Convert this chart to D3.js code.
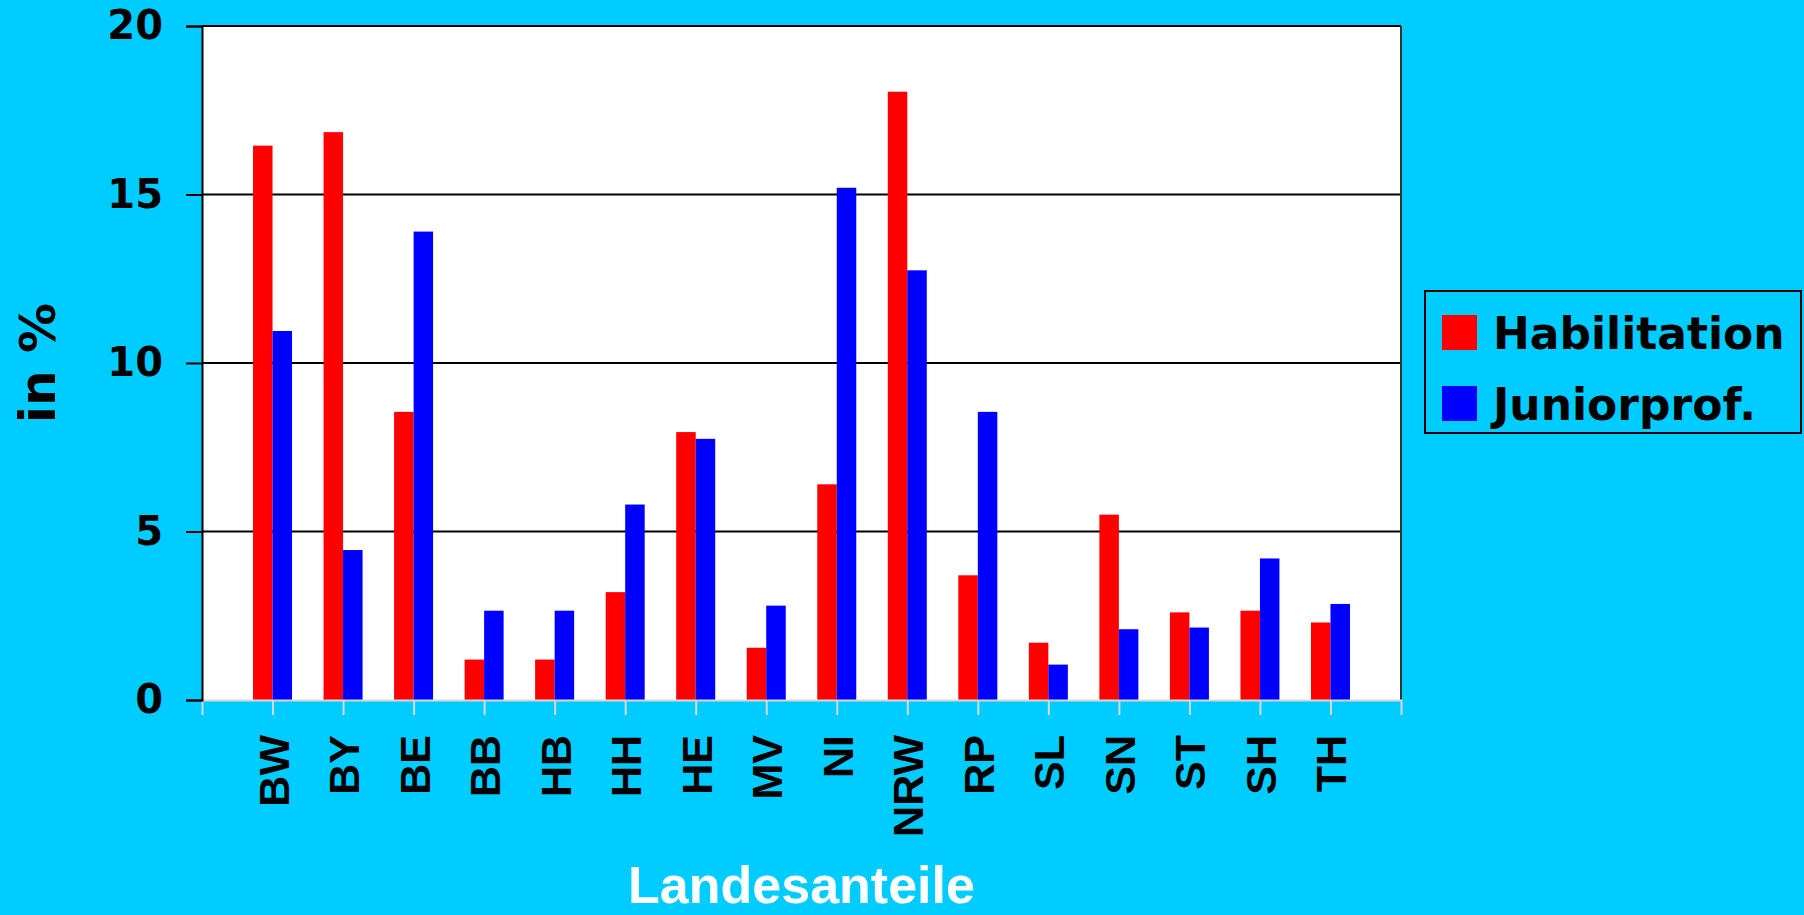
<!DOCTYPE html>
<html>
<head>
<meta charset="utf-8">
<script src="https://cdn.jsdelivr.net/npm/d3@7"></script>
<style>
  body { margin: 0; background: #00CCFF; }
  svg { display: block; }
</style>
</head>
<body>
<svg id="chart" width="1804" height="915"></svg>
<script>
// Landesanteile Habilitation vs. Juniorprofessur
const laender = ["BW","BY","BE","BB","HB","HH","HE","MV","NI","NRW","RP","SL","SN","ST","SH","TH"];
const habilitation = [16.45, 16.85, 8.55, 1.2, 1.2, 3.2, 7.95, 1.55, 6.4, 18.05, 3.7, 1.7, 5.5, 2.6, 2.65, 2.3];
const juniorprof = [10.95, 4.45, 13.9, 2.65, 2.65, 5.8, 7.75, 2.8, 15.2, 12.75, 8.55, 1.05, 2.1, 2.15, 4.2, 2.85];
const yTicks = [0, 5, 10, 15, 20];
const seriesNames = ["Habilitation", "Juniorprof."];
const seriesColors = ["#FF0000", "#0000FF"];

const svg = d3.select("#chart");
const pLeft = 202, pRight = 1401, pTop = 26, pBottom = 700;
const barW = 19.5;

let x = d3.scalePoint().domain(laender).range([pLeft, pRight]).padding(1);
let y = d3.scaleLinear().domain([0, 20]).range([pBottom, pTop]);

// plot area
svg.append("rect").attr("x", pLeft).attr("y", pTop).attr("width", pRight-pLeft).attr("height", pBottom-pTop)
    .attr("fill", "white");

// gridlines
svg.append("g").selectAll("line").data(yTicks.filter(d => d > 0 && d < 20)).join("line")
    .attr("x1", pLeft).attr("x2", pRight).attr("y1", d => y(d)).attr("y2", d => y(d))
    .attr("stroke", "black").attr("stroke-width", 2);

// bars
let rows = laender.map((k, i) => ({k: k, vals: [habilitation[i], juniorprof[i]]}));
let groups = svg.append("g").selectAll("g").data(rows).join("g");
groups.selectAll("rect").data(d => d.vals.map((v, j) => ({k: d.k, v: v, j: j}))).join("rect")
    .attr("x", d => x(d.k) - barW + d.j*barW)
    .attr("width", barW)
    .attr("y", d => y(d.v))
    .attr("height", d => pBottom - y(d.v))
    .attr("fill", d => seriesColors[d.j]);

// borders top/right
svg.append("line").attr("x1", pLeft).attr("x2", pRight).attr("y1", pTop).attr("y2", pTop)
    .attr("stroke", "black").attr("stroke-width", 2);
svg.append("line").attr("x1", pRight).attr("x2", pRight).attr("y1", pTop).attr("y2", pBottom)
    .attr("stroke", "#333").attr("stroke-width", 2);

// x axis
let xAxis = svg.append("g").attr("transform", `translate(0,${pBottom})`)
    .call(d3.axisBottom(x).tickSizeInner(15).tickSizeOuter(15).tickFormat(""));
xAxis.selectAll("path, line").attr("stroke", "#d8d8d8").attr("stroke-width", 2);

svg.append("g").selectAll("text").data(laender).join("text")
    .attr("transform", d => `translate(${x(d) + 16},735) rotate(-90)`)
    .attr("text-anchor", "end")
    .style("font-family", "'Liberation Sans', Arial, sans-serif")
    .style("font-weight", "bold").style("font-size", "43px")
    .text(d => d);

// y axis
let yAxis = svg.append("g").attr("transform", `translate(${pLeft},0)`)
    .call(d3.axisLeft(y).tickValues(yTicks).tickSize(16).tickPadding(23));
yAxis.selectAll("path, line").attr("stroke", "black").attr("stroke-width", 2);
yAxis.selectAll("text").style("font-family", "'DejaVu Sans', sans-serif")
    .style("font-weight", "bold").style("font-size", "40px").attr("fill", "black");

// axis titles
svg.append("text").attr("transform", `translate(55,${(pTop+pBottom)/2}) rotate(-90)`)
    .attr("text-anchor", "middle")
    .style("font-family", "'DejaVu Sans', sans-serif").style("font-weight", "bold").style("font-size", "50px")
    .text("in %");
svg.append("text").attr("x", (pLeft+pRight)/2).attr("y", 903).attr("text-anchor", "middle")
    .attr("fill", "white")
    .style("font-family", "'Liberation Sans', Arial, sans-serif").style("font-weight", "bold").style("font-size", "52px")
    .text("Landesanteile");

// legend
let lg = svg.append("g");
lg.append("rect").attr("x", 1425).attr("y", 291).attr("width", 376).attr("height", 142)
    .attr("fill", "#00CCFF").attr("stroke", "black").attr("stroke-width", 2);
let items = lg.selectAll("g").data(seriesNames).join("g")
    .attr("transform", (d, i) => `translate(1442,${315 + i*71})`);
items.append("rect").attr("width", 35).attr("height", 35).attr("fill", (d, i) => seriesColors[i]);
items.append("text").attr("x", 51).attr("y", 34)
    .style("font-family", "'DejaVu Sans', sans-serif").style("font-weight", "bold").style("font-size", "44px")
    .text(d => d);
</script>
</body>
</html>
